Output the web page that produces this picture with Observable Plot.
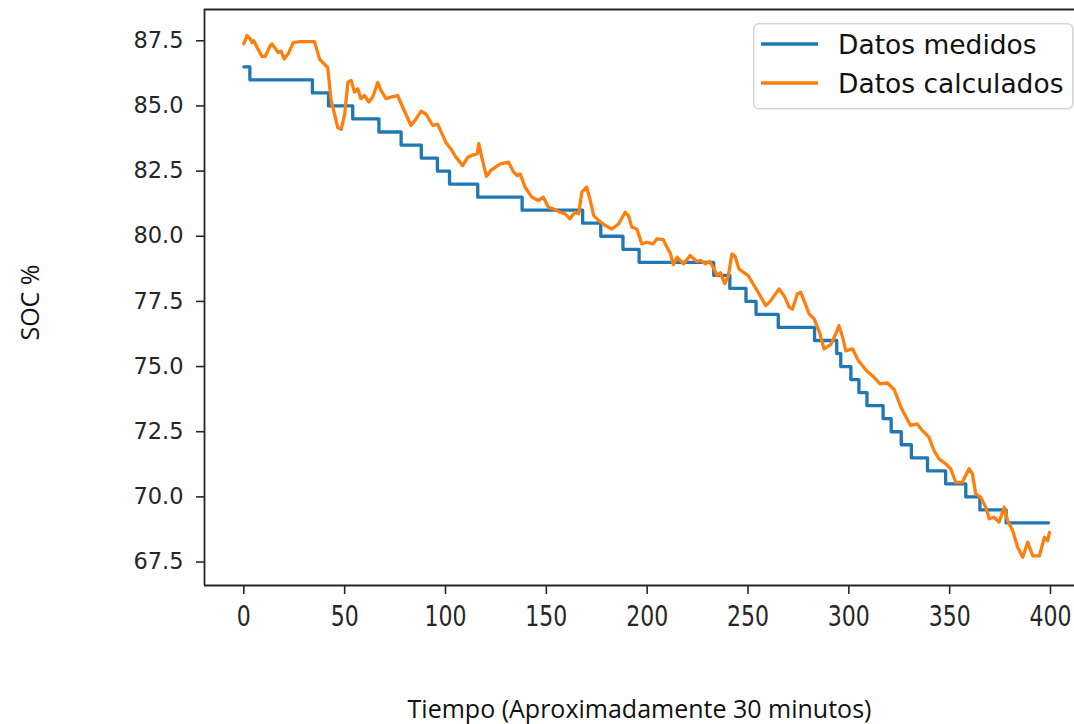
<!DOCTYPE html>
<html>
<head>
<meta charset="utf-8">
<script src="https://cdn.jsdelivr.net/npm/d3@7"></script>
<script src="https://cdn.jsdelivr.net/npm/@observablehq/plot@0.6"></script>
<style>
  html, body { margin: 0; padding: 0; background: #fff; overflow: hidden; }
  #wrap { position: relative; width: 1074px; height: 724px; }
  #legend { position: absolute; left: 753px; top: 23px; }
</style>
</head>
<body>
<div id="wrap"></div>
<script>
// ---- data ----
const xTicks = [0, 50, 100, 150, 200, 250, 300, 350, 400];
const yTicks = [67.5, 70.0, 72.5, 75.0, 77.5, 80.0, 82.5, 85.0, 87.5];
const xLabel = "Tiempo (Aproximadamente 30 minutos)";
const yLabel = "SOC %";
const seriesNames = ["Datos medidos", "Datos calculados"];
const seriesColors = ["#1f77b4", "#ff7f0e"];

// Measured SOC (step changes)
const measuredX = [0, 3, 34, 42, 54, 67, 78, 88, 96, 102, 116, 138, 168, 177, 188, 196, 233, 241, 249, 254, 265, 283, 294, 296, 301, 305, 309, 317, 321, 326, 331, 339, 348, 358, 365, 378, 399];
const measuredSOC = [86.5, 86.0, 85.5, 85.0, 84.5, 84.0, 83.5, 83.0, 82.5, 82.0, 81.5, 81.0, 80.5, 80.0, 79.5, 79.0, 78.5, 78.0, 77.5, 77.0, 76.5, 76.0, 75.5, 75.0, 74.5, 74.0, 73.5, 73.0, 72.5, 72.0, 71.5, 71.0, 70.5, 70.0, 69.5, 69.0, 69.0];

// Calculated SOC
const calcX = [0, 1.6, 3.3, 4, 5, 6.6, 9, 10.6, 13, 14, 17, 18.5, 20, 22, 24.5, 27.8, 35, 37.6, 40, 41.6, 43.3, 45, 46.6, 48.3, 50, 51.6, 53.2, 54.9, 56.5, 58, 59.8, 62, 63.9, 66.4, 68, 70.5, 73, 76.3, 78.8, 82.9, 85.4, 87.9, 90.4, 93.7, 96.1, 100.2, 102.7, 105.2, 108.5, 111, 113, 115.7, 116.5, 118, 120.3, 122.8, 127.2, 131.3, 133.8, 135.5, 137, 139.5, 142.8, 146, 148.5, 151, 153.5, 156.8, 159.3, 161.7, 164.2, 166, 167.6, 170, 171.8, 173.5, 176, 179.2, 182.5, 185.8, 189.1, 190.7, 192.4, 194.9, 197.3, 199.8, 203, 204.8, 208, 209.8, 211.4, 213, 214.8, 218, 221.3, 224.6, 226.4, 228.9, 231, 232.8, 234.7, 236.3, 238.5, 240.3, 242, 243.5, 245.5, 248, 250, 253, 255.5, 258.8, 261.3, 265.4, 267.9, 270.4, 272, 274.5, 276.2, 277.8, 280.3, 282.8, 285.5, 287.7, 291, 293.5, 295.1, 296.9, 298.5, 301.8, 304.7, 308.8, 312.5, 315.5, 319.2, 322.5, 326.2, 330.6, 333.9, 336.4, 339.7, 342.2, 344.7, 348, 350.5, 353, 356.3, 359.6, 361.3, 362.9, 365.4, 367.9, 369.6, 372, 374.5, 377, 378.7, 381.2, 383.7, 386.2, 388.7, 391.2, 394.5, 397, 398.6, 399.5];
const calcSOC = [87.38, 87.70, 87.56, 87.43, 87.50, 87.24, 86.90, 86.90, 87.30, 87.38, 87.05, 87.10, 86.80, 87.00, 87.43, 87.47, 87.47, 86.79, 86.60, 86.47, 85.20, 84.68, 84.17, 84.10, 84.68, 85.90, 85.98, 85.53, 85.66, 85.28, 85.40, 85.15, 85.34, 85.90, 85.60, 85.28, 85.34, 85.40, 84.95, 84.25, 84.50, 84.80, 84.68, 84.25, 84.30, 83.60, 83.35, 83.03, 82.71, 83.03, 83.10, 83.16, 83.55, 83.03, 82.30, 82.55, 82.78, 82.84, 82.46, 82.33, 82.39, 81.88, 81.50, 81.37, 81.50, 81.11, 81.05, 80.92, 80.86, 80.67, 80.92, 80.86, 81.69, 81.88, 81.37, 80.79, 80.60, 80.41, 80.28, 80.47, 80.92, 80.79, 80.35, 80.28, 79.71, 79.77, 79.71, 79.90, 79.87, 79.58, 79.36, 78.91, 79.20, 78.94, 79.26, 79.04, 79.07, 78.94, 79.03, 78.81, 78.49, 78.60, 78.18, 78.50, 79.32, 79.25, 78.75, 78.60, 78.50, 78.11, 77.79, 77.34, 77.53, 77.98, 77.72, 77.28, 77.20, 77.79, 77.85, 77.53, 77.02, 76.83, 76.30, 75.68, 75.84, 76.25, 76.57, 76.13, 75.60, 75.68, 75.23, 74.84, 74.59, 74.34, 74.37, 74.11, 73.38, 72.74, 72.80, 72.55, 72.29, 71.78, 71.46, 71.27, 71.08, 70.56, 70.56, 71.08, 70.88, 70.12, 69.99, 69.60, 69.16, 69.22, 69.03, 69.60, 69.09, 68.71, 68.07, 67.68, 68.26, 67.74, 67.74, 68.45, 68.32, 68.64];

// ---- scale config ----
const xDomain = [-19.5, 411.9];
const yDomain = [66.6, 88.7];

const measured = measuredX.map((x, i) => ({x, y: measuredSOC[i]}));
const calculated = calcX.map((x, i) => ({x, y: calcSOC[i]}));

const ink = "#262626";

const chart = Plot.plot({
  width: 1074,
  height: 724,
  marginLeft: 204,
  marginRight: 0,
  marginTop: 9,
  marginBottom: 139,
  style: {fontFamily: "'DejaVu Sans', sans-serif", color: ink, background: "#fff", overflow: "visible"},
  x: {domain: xDomain},
  y: {domain: yDomain},
  marks: [
    Plot.line(measured, {x: "x", y: "y", curve: "step-after", stroke: seriesColors[0], strokeWidth: 3.3}),
    Plot.line(calculated, {x: "x", y: "y", stroke: seriesColors[1], strokeWidth: 3.3, strokeLinejoin: "round"}),
    Plot.ruleX([xDomain[0]], {stroke: ink, strokeWidth: 1.8}),
    Plot.ruleY([yDomain[0], yDomain[1]], {stroke: ink, strokeWidth: 1.8}),
    Plot.axisY(yTicks, {tickSize: 8, tickPadding: 13, tickFormat: d => d.toFixed(1), fontSize: 22.5, strokeWidth: 1.6, label: null}),
    Plot.axisX(xTicks, {tickSize: 9, tickPadding: 11, fontSize: 29, strokeWidth: 1.6, label: null}),
    Plot.text([xLabel], {text: d => d, frameAnchor: "bottom", lineAnchor: "middle", textAnchor: "middle", dy: 124, fontSize: 25, fontFamily: "'Open Sans', sans-serif", fill: "#111"}),
    Plot.text([yLabel], {text: d => d, frameAnchor: "left", lineAnchor: "middle", textAnchor: "middle", rotate: -90, dx: -174, dy: 5, fontSize: 25, fontFamily: "'Open Sans', sans-serif", fill: "#111"})
  ]
});

// condense x tick labels horizontally (as in the reference)
chart.querySelectorAll('g[aria-label="x-axis tick label"] text').forEach(t => {
  const tr = t.getAttribute("transform");
  if (tr) {
    t.setAttribute("transform", tr + " scale(0.76,1)");
  } else {
    const x = t.getAttribute("x") || 0, y = t.getAttribute("y") || 0;
    t.removeAttribute("x"); t.removeAttribute("y");
    t.setAttribute("transform", `translate(${x},${y}) scale(0.76,1)`);
  }
});

const wrap = document.getElementById("wrap");
wrap.appendChild(chart);

// legend (matplotlib-style, upper right inside axes)
const ns = "http://www.w3.org/2000/svg";
const leg = document.createElementNS(ns, "svg");
leg.setAttribute("id", "legend");
leg.setAttribute("width", 321);
leg.setAttribute("height", 87);
const box = document.createElementNS(ns, "rect");
box.setAttribute("x", 0.75); box.setAttribute("y", 0.75);
box.setAttribute("width", 319); box.setAttribute("height", 85);
box.setAttribute("rx", 5);
box.setAttribute("fill", "rgba(255,255,255,0.8)");
box.setAttribute("stroke", "#d6d6d6");
box.setAttribute("stroke-width", 1.5);
leg.appendChild(box);
seriesNames.forEach((name, i) => {
  const cy = 21 + i * 39;
  const ln = document.createElementNS(ns, "line");
  ln.setAttribute("x1", 8); ln.setAttribute("x2", 65);
  ln.setAttribute("y1", cy); ln.setAttribute("y2", cy);
  ln.setAttribute("stroke", seriesColors[i]);
  ln.setAttribute("stroke-width", 3.3);
  leg.appendChild(ln);
  const tx = document.createElementNS(ns, "text");
  tx.setAttribute("x", 85); tx.setAttribute("y", cy);
  tx.setAttribute("dy", "0.36em");
  tx.setAttribute("font-family", "'DejaVu Sans', sans-serif");
  tx.setAttribute("font-size", 26.5);
  tx.setAttribute("fill", "#111");
  tx.textContent = name;
  leg.appendChild(tx);
});
wrap.appendChild(leg);
</script>
</body>
</html>
